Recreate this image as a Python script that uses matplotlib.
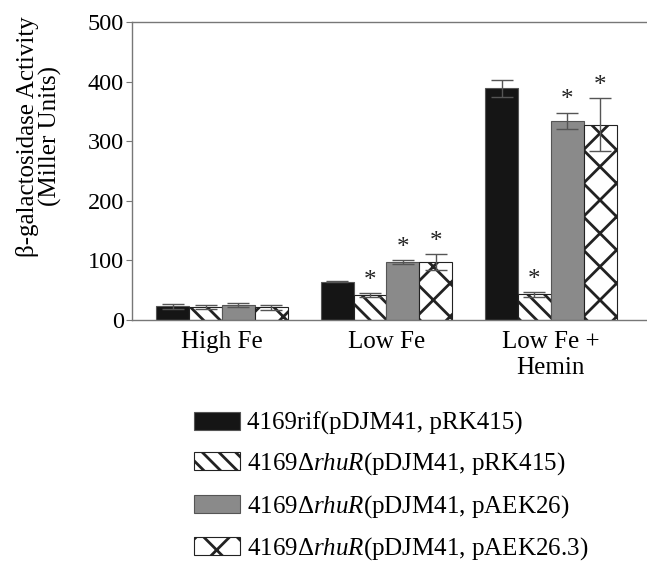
import matplotlib
matplotlib.use("Agg")
import matplotlib.pyplot as plt
import numpy as np

plt.rcParams['font.family'] = ['Liberation Serif', 'DejaVu Serif']
plt.rcParams['mathtext.fontset'] = 'custom'
plt.rcParams['mathtext.rm'] = 'Liberation Serif'
plt.rcParams['mathtext.it'] = 'Liberation Serif:italic'
plt.rcParams['hatch.linewidth'] = 2.0

conditions = ['High Fe', 'Low Fe', 'Low Fe +\nHemin']
strains = ['4169rif(pDJM41, pRK415)',
           '4169Δ$\\mathit{rhuR}$(pDJM41, pRK415)',
           '4169Δ$\\mathit{rhuR}$(pDJM41, pAEK26)',
           '4169Δ$\\mathit{rhuR}$(pDJM41, pAEK26.3)']
means = [[23, 64, 389],
         [22, 42, 43],
         [25, 97, 334],
         [21, 97, 328]]
errors = [[4, 1, 14],
          [3, 3, 4],
          [3, 3, 14],
          [3.5, 13, 45]]
significant = [[False, False, False],
               [False, True, True],
               [False, True, True],
               [False, True, True]]

colors = ['#151515', 'white', '#8a8a8a', 'white']
hatches = [None, '\\\\', None, 'x']

fig = plt.figure(figsize=(6.47, 5.64), dpi=100)
ax = fig.add_axes([0.204, 0.4326, 0.80, 0.5284])

x = np.arange(len(conditions))
width = 0.2
handles = []
for i in range(4):
    pos = x + (i - 1.5) * width
    b = ax.bar(pos, means[i], width, color=colors[i], hatch=hatches[i],
               edgecolor='#222222' if hatches[i] else '#555555', linewidth=0.8,
               label=strains[i], zorder=2)
    handles.append(b)
    ax.errorbar(pos, means[i], yerr=errors[i], fmt='none', ecolor='#555555',
                elinewidth=1.0, capsize=8, capthick=1.0, zorder=3)
    for j in range(3):
        if significant[i][j]:
            ax.text(pos[j], means[i][j] + errors[i][j] + 2, '*', ha='center',
                    va='bottom', fontsize=18, color='#222222')

ax.set_xlim(-0.547, 2.6)
ax.set_ylim(0, 500)
ax.set_yticks(range(0, 501, 100))
ax.set_xticks(x)
ax.set_xticklabels(conditions, fontsize=18, linespacing=1.25)
ax.tick_params(axis='y', labelsize=17.5, length=4, color='#777777', pad=2)
ax.tick_params(axis='x', length=0, pad=8)
for s in ax.spines.values():
    s.set_color('#777777')
    s.set_linewidth(1.0)
ax.set_ylabel('β-galactosidase Activity\n(Miller Units)', fontsize=18,
              linespacing=1.0)
ax.yaxis.set_label_coords(-0.136, 0.617)

fig.legend(handles=handles, labels=strains, loc='upper left',
           bbox_to_anchor=(0.2998, 0.270), frameon=False, fontsize=18,
           handlelength=1.84, handleheight=0.72, handletextpad=0.28,
           labelspacing=0.62, borderpad=0, borderaxespad=0)

fig.savefig('out.png', dpi=100)
